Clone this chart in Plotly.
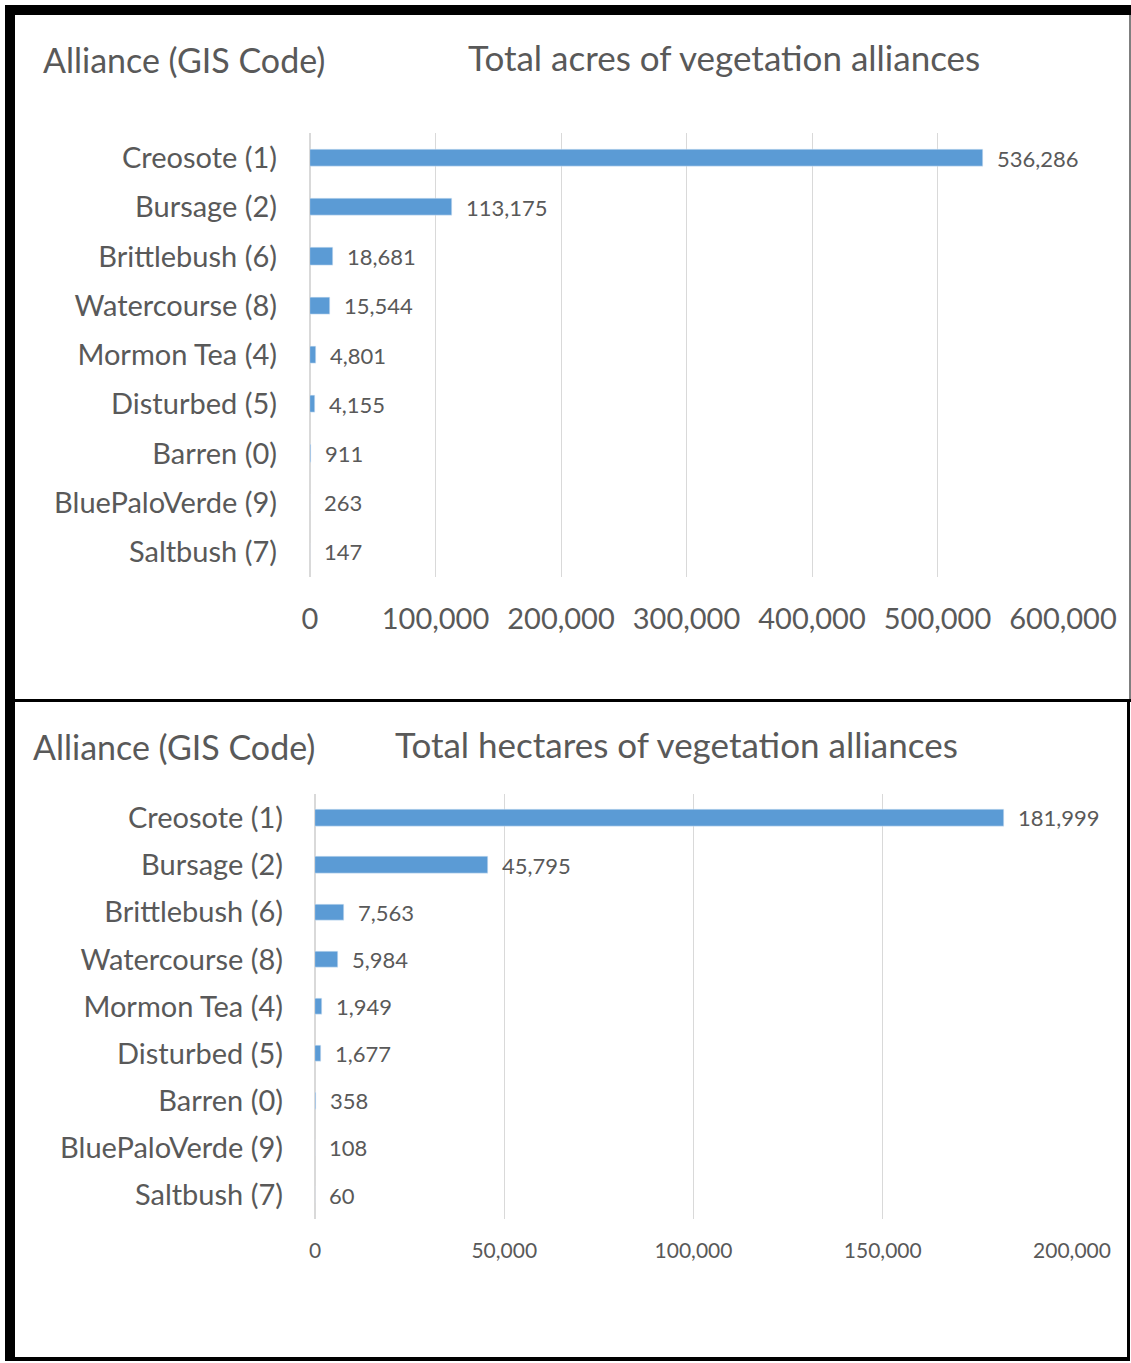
import plotly.graph_objects as go

categories = ["Creosote (1)", "Bursage (2)", "Brittlebush (6)", "Watercourse (8)",
              "Mormon Tea (4)", "Disturbed (5)", "Barren (0)", "BluePaloVerde (9)", "Saltbush (7)"]
acres = [536286, 113175, 18681, 15544, 4801, 4155, 911, 263, 147]
hectares = [181999, 45795, 7563, 5984, 1949, 1677, 358, 108, 60]
acre_ticks = [0, 100000, 200000, 300000, 400000, 500000, 600000]
hectare_ticks = [0, 50000, 100000, 150000, 200000]
title_top = "Total acres of vegetation alliances"
title_bottom = "Total hectares of vegetation alliances"
axis_caption = "Alliance (GIS Code)"

W, H = 1131, 1363
FONT = "Lato, 'Open Sans', sans-serif"
GREY = "#595959"
BAR = "#5B9BD5"
GRID = "#D9D9D9"

def px(x):
    return x / W

def py(y):
    return 1 - y / H

fig = go.Figure()
fig.add_trace(go.Bar(y=categories, x=acres, orientation="h", marker_color=BAR,
                     width=0.35, xaxis="x", yaxis="y", hoverinfo="x+y"))
fig.add_trace(go.Bar(y=categories, x=hectares, orientation="h", marker_color=BAR,
                     width=0.35, xaxis="x2", yaxis="y2", hoverinfo="x+y"))

common_x = dict(showgrid=True, gridcolor=GRID, gridwidth=1,
                zeroline=True, zerolinecolor=GRID, zerolinewidth=1.5,
                showline=False, ticks="outside", tickcolor="rgba(0,0,0,0)",
                tickformat=",", color=GREY, automargin=False)
common_y = dict(autorange="reversed", showgrid=False, zeroline=False, showline=False,
                ticks="", color=GREY, automargin=False,
                tickfont=dict(family=FONT, size=29, color=GREY))

fig.update_layout(
    width=W, height=H, autosize=False,
    margin=dict(l=0, r=0, t=0, b=0, pad=0),
    paper_bgcolor="white", plot_bgcolor="white",
    showlegend=False,
    font=dict(family=FONT, color=GREY),
    bargap=0.0,
    xaxis=dict(domain=[px(310), px(1063)], range=[0, 600000], tickvals=acre_ticks,
               anchor="y", ticklen=17, tickfont=dict(family=FONT, size=29, color=GREY),
               **common_x),
    yaxis=dict(domain=[py(576.6), py(133.4)], anchor="x", ticklabelstandoff=32, **common_y),
    xaxis2=dict(domain=[px(315), px(1072)], range=[0, 200000], tickvals=hectare_ticks,
                anchor="y2", ticklen=13, tickfont=dict(family=FONT, size=21, color=GREY),
                **common_x),
    yaxis2=dict(domain=[py(1218.6), py(794.4)], anchor="x2", ticklabelstandoff=31, **common_y),
)

annotations = []
for c, v in zip(categories, acres):
    annotations.append(dict(x=v, y=c, xref="x", yref="y", text=f"{v:,}", showarrow=False,
                            xanchor="left", xshift=12, font=dict(family=FONT, size=22, color=GREY)))
for c, v in zip(categories, hectares):
    annotations.append(dict(x=v, y=c, xref="x2", yref="y2", text=f"{v:,}", showarrow=False,
                            xanchor="left", xshift=12, font=dict(family=FONT, size=22, color=GREY)))

annotations += [
    dict(x=px(41), y=py(60), xref="paper", yref="paper", text=axis_caption, showarrow=False,
         xanchor="left", yanchor="middle", font=dict(family=FONT, size=34, color=GREY)),
    dict(x=px(724), y=py(57), xref="paper", yref="paper", text=title_top, showarrow=False,
         xanchor="center", yanchor="middle", font=dict(family=FONT, size=35, color=GREY)),
    dict(x=px(31), y=py(746), xref="paper", yref="paper", text=axis_caption, showarrow=False,
         xanchor="left", yanchor="middle", font=dict(family=FONT, size=34, color=GREY)),
    dict(x=px(676), y=py(744), xref="paper", yref="paper", text=title_bottom, showarrow=False,
         xanchor="center", yanchor="middle", font=dict(family=FONT, size=35, color=GREY)),
]
fig.update_layout(annotations=annotations)

def rect(x0, y0, x1, y1, color="black"):
    return dict(type="rect", xref="paper", yref="paper", x0=px(x0), x1=px(x1),
                y0=py(y1), y1=py(y0), fillcolor=color, line=dict(width=0), layer="above")

fig.update_layout(shapes=[
    rect(5, 5, 1131, 15),          # top thick border
    rect(5, 5, 15, 1361),          # left thick border
    rect(1129, 15, 1131, 700, "#7F7F7F"),  # top chart right thin border
    rect(15, 699, 1131, 702),      # divider
    rect(1127, 702, 1130, 1361),   # bottom chart right border
    rect(5, 1357, 1130, 1361),     # bottom border
])

fig.write_html("out.html", config={"displayModeBar": False, "responsive": False},
               post_script="document.body.style.margin='0';document.body.style.overflow='hidden';")
